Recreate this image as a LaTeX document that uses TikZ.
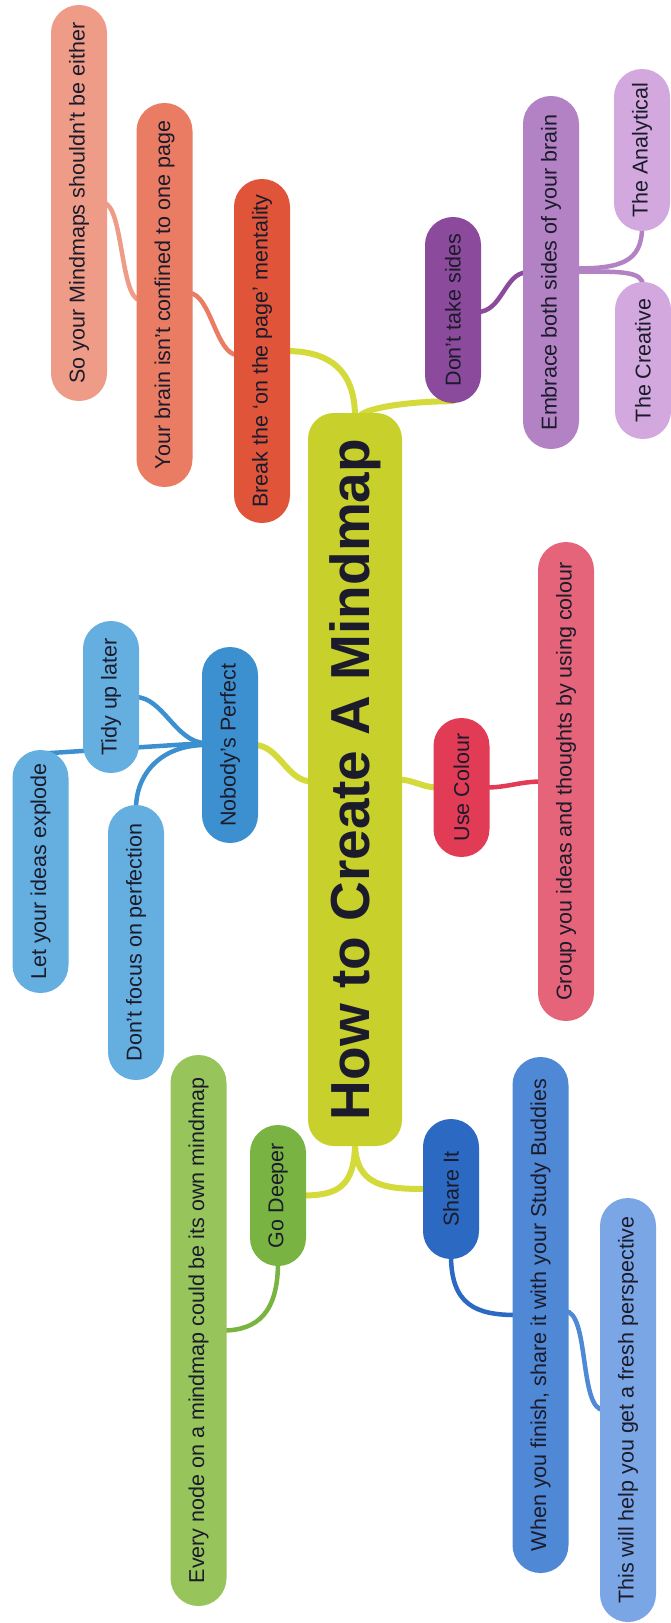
\documentclass[tikz,border=0pt]{standalone}
\usepackage{fontspec}
\setmainfont{Liberation Sans}
\usepackage{graphicx}
\usetikzlibrary{calc,backgrounds}
\definecolor{cC}{HTML}{C8D12B}
\definecolor{cY}{HTML}{D4DA3A}
\definecolor{cB}{HTML}{E0553A}
\definecolor{cS2}{HTML}{E97C63}
\definecolor{cS1}{HTML}{EE9C87}
\definecolor{cD}{HTML}{8B4A9C}
\definecolor{cE}{HTML}{B282C4}
\definecolor{cAn}{HTML}{D2A8DE}
\definecolor{cN}{HTML}{3D90CF}
\definecolor{cLB}{HTML}{64AEE0}
\definecolor{cU}{HTML}{E13B55}
\definecolor{cG}{HTML}{E5647A}
\definecolor{cGD}{HTML}{79B443}
\definecolor{cEN}{HTML}{97C55C}
\definecolor{cSI}{HTML}{2B69C2}
\definecolor{cW}{HTML}{4F88D5}
\definecolor{cTH}{HTML}{7BA6E5}
\definecolor{txt}{HTML}{1B1B2B}
\newcommand{\vt}[1]{\rotatebox{90}{#1}}
\begin{document}
\begin{tikzpicture}[x=1pt,y=-1pt,
  pill/.style={rectangle, rounded corners=27.9pt, minimum width=56pt, inner sep=0pt,
    text=txt, font=\fontsize{21.5}{24}\selectfont},
  hub/.style={rectangle, rounded corners=26pt, minimum width=94pt, inner sep=0pt,
    text=txt, font=\fontsize{55}{60}\selectfont\bfseries},
  mainlink/.style={line width=6pt, cY, line cap=round},
  sublink/.style={line width=4.5pt, line cap=round}]
\useasboundingbox (0,0) rectangle (670,1623);
% nodes
\node[hub, fill=cC, minimum height=733pt] (C) at (355,779.5) {\vt{How to Create A Mindmap}};
\node[pill, fill=cS1, minimum height=396pt] (S1) at (79,203) {\vt{So your Mindmaps shouldn't be either}};
\node[pill, fill=cS2, minimum height=384pt] (S2) at (164.5,295) {\vt{Your brain isn't confined to one page}};
\node[pill, fill=cB, minimum height=344pt] (B) at (262,351) {\vt{Break the `on the page' mentality}};
\node[pill, fill=cD, minimum height=186pt] (D) at (453,310) {\vt{Don't take sides}};
\node[pill, fill=cE, minimum height=353pt] (E) at (551,272.5) {\vt{Embrace both sides of your brain}};
\node[pill, fill=cAn, minimum height=162pt] (An) at (642,150) {\vt{The Analytical}};
\node[pill, fill=cAn, minimum height=157pt] (Cr) at (643,360.5) {\vt{The Creative}};
\node[pill, fill=cLB, minimum height=152pt] (T) at (111,697) {\vt{Tidy up later}};
\node[pill, fill=cLB, minimum height=243pt] (L) at (40.5,871.5) {\vt{Let your ideas explode}};
\node[pill, fill=cLB, minimum height=275pt] (F) at (136,942.5) {\vt{Don't focus on perfection}};
\node[pill, fill=cN, minimum height=196pt] (N) at (230,745) {\vt{Nobody's Perfect}};
\node[pill, fill=cU, minimum height=139pt] (U) at (461.5,787.5) {\vt{Use Colour}};
\node[pill, fill=cG, minimum height=479pt] (G) at (566,781.5) {\vt{Group you ideas and thoughts by using colour}};
\node[pill, fill=cEN, minimum height=551pt] (EN) at (198.5,1330.5) {\vt{Every node on a mindmap could be its own mindmap}};
\node[pill, fill=cGD, minimum height=141pt] (GD) at (278,1195.5) {\vt{Go Deeper}};
\node[pill, fill=cSI, minimum height=140pt] (SI) at (451,1189) {\vt{Share It}};
\node[pill, fill=cW, minimum height=516pt] (W) at (540.5,1315) {\vt{When you finish, share it with your Study Buddies}};
\node[pill, fill=cTH, minimum height=424pt] (TH) at (628,1410) {\vt{This will help you get a fresh perspective}};
% connectors
\begin{pgfonlayer}{background}
\draw[mainlink] ($(B.east)+(-4,0)$) .. controls +(45,0) and +(0,-45) .. ($(C.north)+(0,4)$);
\draw[mainlink] ($(C.north)+(6,2)$) .. controls +(10,-8) and +(-40,0) .. ($(D.south)+(0,-2)$);
\draw[mainlink] ($(N.east)+(-4,0)$) .. controls +(25,0) and +(-25,0) .. ($(C.west)+(4,2)$);
\draw[mainlink] ($(C.east)+(-4,0)$) .. controls +(15,0) and +(-15,0) .. ($(U.west)+(4,0)$);
\draw[mainlink] ($(C.south)+(0,-4)$) .. controls +(0,45) and +(35,0) .. ($(GD.east)+(-4,0)$);
\draw[mainlink] ($(C.south)+(0,-4)$) .. controls +(0,45) and +(-40,0) .. ($(SI.west)+(4,0)$);
% sub connectors
\draw[sublink, cS2] ($(S2.east)+(-4,-2)$) .. controls +(22,0) and +(-22,0) .. ($(B.west)+(4,4)$);
\draw[sublink, cS1] ($(S1.east)+(-4,0)$) .. controls +(20,0) and +(-20,0) .. ($(S2.west)+(4,5)$);
\draw[sublink, cD] ($(D.east)+(-4,2)$) .. controls +(25,0) and +(-22,0) .. ($(E.west)+(4,0)$);
\draw[sublink, cE] ($(E.east)+(-4,-4)$) .. controls +(45,0) and +(0,35) .. ($(An.south)+(0,-4)$);
\draw[sublink, cE] ($(E.east)+(-4,-1)$) .. controls +(45,0) and +(0,-15) .. ($(Cr.north)+(0,4)$);
\draw[sublink, cN] ($(N.west)+(4,-2)$) -- ($(L.north)+(-2,4)$);
\draw[sublink, cN] ($(N.west)+(4,-2)$) .. controls +(-30,0) and +(28,0) .. ($(T.east)+(-4,0)$);
\draw[sublink, cN] ($(N.west)+(4,0)$) .. controls +(-45,0) and +(0,-35) .. ($(F.north)+(0,4)$);
\draw[sublink, cU] ($(U.east)+(-4,0)$) .. controls +(22,0) and +(-22,0) .. ($(G.west)+(4,0)$);
\draw[sublink, cGD] ($(GD.south)+(0,-4)$) .. controls +(0,50) and +(35,0) .. ($(EN.east)+(-4,0)$);
\draw[sublink, cSI] ($(SI.south)+(0,-4)$) .. controls +(0,50) and +(-40,0) .. ($(W.west)+(4,0)$);
\draw[sublink, cW] ($(W.east)+(-4,-4)$) .. controls +(25,0) and +(-25,0) .. ($(TH.west)+(4,0)$);
\end{pgfonlayer}
\end{tikzpicture}
\end{document}
